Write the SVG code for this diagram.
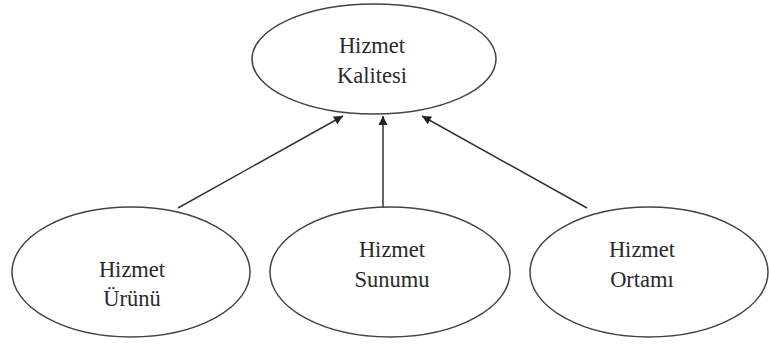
<svg xmlns="http://www.w3.org/2000/svg" width="769" height="346" viewBox="0 0 769 346">
<style>
.node ellipse{fill:#fff;stroke:#444;stroke-width:1.5}
.node text{font-family:'Liberation Serif','Times New Roman',serif;font-size:22.5px;fill:#2a2a2a;text-anchor:middle}
.edge{stroke:#333;stroke-width:1.5;fill:none;marker-end:url(#ah)}
</style>
<defs>
<marker id="ah" viewBox="0 0 10 10" refX="10" refY="5" markerWidth="10" markerHeight="9" markerUnits="userSpaceOnUse" orient="auto">
<path d="M0,0 L10,5 L0,10 z" fill="#222"/>
</marker>
</defs>
<rect width="769" height="346" fill="#fff"/>
<g id="connectors">
<line class="edge" x1="178" y1="208" x2="343" y2="116"/>
<line class="edge" x1="383" y1="208" x2="383" y2="116"/>
<line class="edge" x1="587" y1="208" x2="422" y2="116"/>
</g>
<g id="kalite" class="node">
<ellipse cx="374" cy="59" rx="122" ry="55"/>
<text x="372" y="53">Hizmet</text>
<text x="372" y="83">Kalitesi</text>
</g>
<g id="urun" class="node">
<ellipse cx="131" cy="272" rx="119" ry="65"/>
<text x="132" y="277">Hizmet</text>
<text x="132" y="306">Ürünü</text>
</g>
<g id="sunum" class="node">
<ellipse cx="390" cy="272" rx="120" ry="65"/>
<text x="392" y="257">Hizmet</text>
<text x="392" y="287">Sunumu</text>
</g>
<g id="ortam" class="node">
<ellipse cx="649" cy="272" rx="119" ry="65"/>
<text x="642" y="257">Hizmet</text>
<text x="642" y="287">Ortamı</text>
</g>
</svg>
